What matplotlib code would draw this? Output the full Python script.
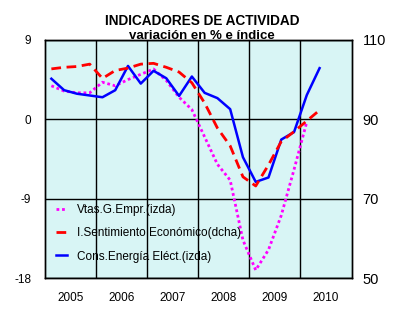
import numpy as np
import matplotlib
matplotlib.use("Agg")
import matplotlib.pyplot as plt

plt.rcParams["font.family"] = ["Liberation Sans", "DejaVu Sans"]

# quarterly data, Q1 2005 .. Q2 2010
years = ["2005", "2006", "2007", "2008", "2009", "2010"]
vtas = [3.8, 3.2, 3.0, 3.0, 4.2, 3.8, 4.5, 5.1, 5.7, 4.4, 2.5, 1.1,
        -2.0, -5.1, -6.9, -13.7, -17.1, -14.8, -10.9, -5.7, -0.3]
sentimiento = [102.7, 103.1, 103.3, 103.9, 100.3, 102.3, 102.9, 103.9, 104.1,
               103.1, 101.9, 99.2, 94.1, 87.8, 83.3, 75.5, 73.2, 78.5, 84.4,
               86.9, 89.6, 92.3]
energia = [4.6, 3.3, 2.9, 2.7, 2.5, 3.3, 6.05, 4.05, 5.5, 4.65, 2.65, 4.85,
           3.0, 2.4, 1.15, -4.3, -7.1, -6.6, -2.3, -1.45, 2.75, 5.8]

C_VTAS, C_SENT, C_ENER = "#ff00ff", "#ff0000", "#0000ff"

fig = plt.figure(figsize=(4.15, 3.22), dpi=100)
ax = fig.add_axes([0.1084, 0.1366, 0.7386, 0.7394])
ax.set_facecolor("#d8f5f5")
ax2 = ax.twinx()

xv = np.arange(len(vtas)) + 0.5
xs = np.arange(len(sentimiento)) + 0.5
xe = np.arange(len(energia)) + 0.5

ax.plot(xv, vtas, color=C_VTAS, lw=2.0, ls=(0, (1, 1)), label="Vtas.G.Empr.(izda)")
l_sent, = ax2.plot(xs, sentimiento, color=C_SENT, lw=2.0, ls=(0, (3.5, 2)),
                   label="I.Sentimiento Económico(dcha)")
ax.plot(xe, energia, color=C_ENER, lw=1.8, label="Cons.Energía Eléct.(izda)")

ax.set_xlim(0, 24)
ax.set_ylim(-18, 9)
ax2.set_ylim(50, 110)

ax.set_xticks([4, 8, 12, 16, 20])
ax.set_xticklabels([])
ax.set_xticks(np.arange(2, 24, 4), minor=True)
ax.set_xticklabels(years, minor=True, fontsize=8.5)
ax.tick_params(axis="x", which="both", length=0, pad=10)
ax.set_yticks([-18, -9, 0, 9])
ax.set_yticklabels(["-18", "-9", "0", "9"], fontsize=8.5)
ax.tick_params(axis="y", length=0, pad=10)
ax2.set_yticks([50, 70, 90, 110])
ax2.tick_params(axis="y", length=0, pad=8, labelsize=10.5)
ax.grid(True, which="major", color="black", lw=1.0)
ax.set_axisbelow(True)
for a in (ax, ax2):
    for s in a.spines.values():
        s.set_color("black")
        s.set_linewidth(1.0)

h, l = ax.get_legend_handles_labels()
handles = [h[0], l_sent, h[1]]
labels = [l[0], l_sent.get_label(), l[1]]
leg = ax.legend(handles, labels, loc="lower left", bbox_to_anchor=(0.0, 0.02),
                frameon=False, fontsize=8.5, handlelength=1.0,
                handletextpad=0.8, labelspacing=0.95)

fig.text(0.487, 0.935, "INDICADORES DE ACTIVIDAD", ha="center", va="center",
         fontsize=9.8, fontweight="bold")
fig.text(0.487, 0.888, "variación en % e índice", ha="center", va="center",
         fontsize=9.5, fontweight="bold")

fig.savefig("out.png", dpi=100)
